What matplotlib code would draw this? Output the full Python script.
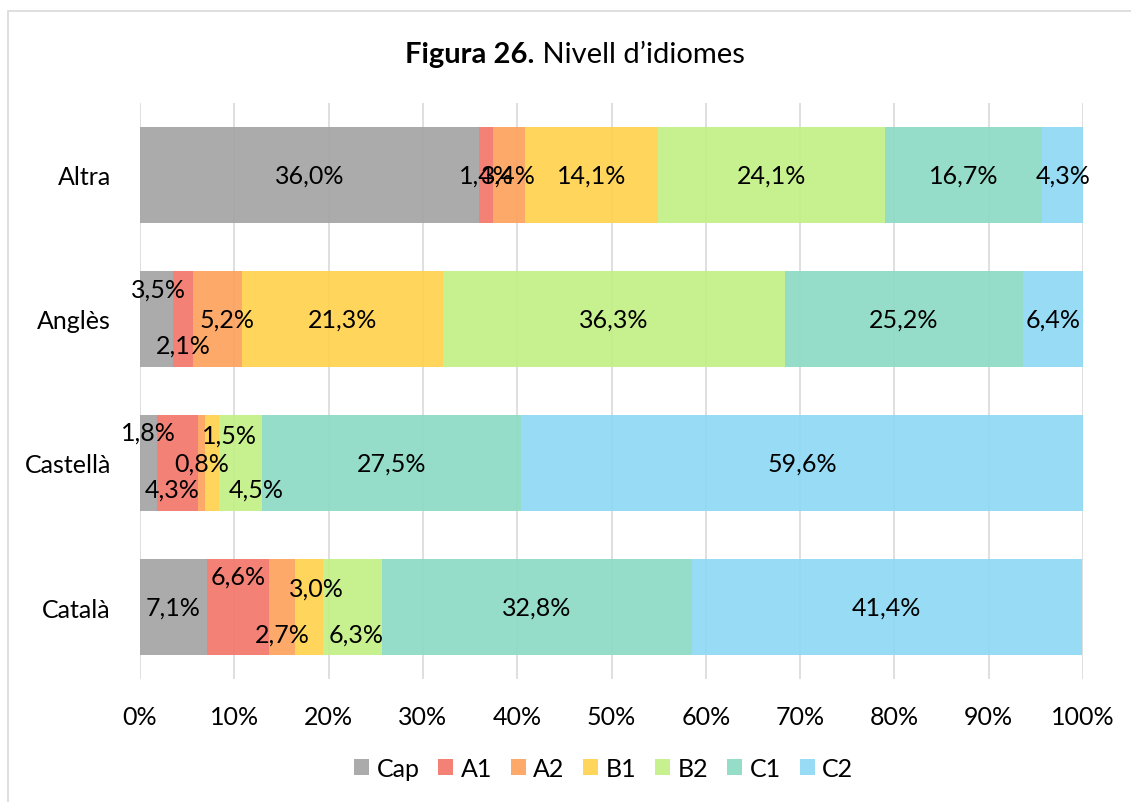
import numpy as np
import matplotlib
matplotlib.use('Agg')
import matplotlib.pyplot as plt
from matplotlib.patches import Rectangle

plt.rcParams['font.family'] = ['Lato', 'DejaVu Sans']

# Dades de la figura
idiomes = ['Català', 'Castellà', 'Anglès', 'Altra']
nivells = ['Cap', 'A1', 'A2', 'B1', 'B2', 'C1', 'C2']
cap = [7.1, 1.8, 3.5, 36.0]
a1 = [6.6, 4.3, 2.1, 1.4]
a2 = [2.7, 0.8, 5.2, 3.4]
b1 = [3.0, 1.5, 21.3, 14.1]
b2 = [6.3, 4.5, 36.3, 24.1]
c1 = [32.8, 27.5, 25.2, 16.7]
c2 = [41.4, 59.6, 6.4, 4.3]
series = [cap, a1, a2, b1, b2, c1, c2]

colors = ['#a5a5a5', '#f4786a', '#fca35f', '#ffd24f', '#c3ef86', '#8ddbc5', '#8fd9f4']

# desplaçament manual d'etiquetes (idioma, nivell) -> pixels
nudge = {
    (1, 0): (0, 31), (1, 1): (-5, -26), (1, 3): (17, 28), (1, 4): (16, -26),
    (2, 0): (2, 30), (2, 1): (0, -26), (2, 2): (10, 0),
    (0, 1): (0, 31), (0, 2): (0, -27), (0, 3): (8, 19), (0, 4): (3, -27),
}

fig = plt.figure(figsize=(11.31, 8.03), dpi=100)
ax = fig.add_axes([140 / 1131, 1 - 680 / 803, 943 / 1131, 576 / 803])

# marc del gràfic
fig.patches.append(Rectangle((8 / 1131, -0.1), 1.2, 1 - 12 / 803 + 0.1,
                             transform=fig.transFigure, fill=False,
                             edgecolor='#d9d9d9', linewidth=1.2))

y = np.arange(len(idiomes))
left = np.zeros(len(idiomes))
for s, (vals, name, col) in enumerate(zip(series, nivells, colors)):
    vals = np.array(vals)
    ax.barh(y, vals, left=left, height=0.667, color=col, alpha=0.93,
            label=name, zorder=2)
    for i, v in enumerate(vals):
        dx, dy = nudge.get((i, s), (0, 0))
        txt = f'{v:.1f}%'.replace('.', ',')
        ax.annotate(txt, (left[i] + v / 2, y[i]), xytext=(dx, dy),
                    textcoords='offset pixels', ha='center', va='center',
                    fontsize=18, color='black', zorder=4)
    left += vals

ax.set_xlim(0, 100)
ax.set_ylim(-0.5, 3.5)
ax.set_yticks(y)
ax.set_yticklabels(idiomes, fontsize=18)
ax.set_xticks(np.arange(0, 101, 10))
ax.set_xticklabels([f'{t}%' for t in range(0, 101, 10)], fontsize=18)
ax.tick_params(length=0)
ax.tick_params(axis='x', pad=19)
ax.tick_params(axis='y', pad=21)
ax.grid(axis='x', color='#d9d9d9', linewidth=1.2, zorder=0)
ax.set_axisbelow(True)
for sp in ax.spines.values():
    sp.set_visible(False)

ax.legend(loc='center', bbox_to_anchor=(0.5 - 8 / 943, -0.155), ncol=7,
          frameon=False, fontsize=18, handlelength=0.6, handleheight=0.6,
          handletextpad=0.3, columnspacing=0.75)

# títol en dues parts
t1 = fig.text(0.5, 1 - 55 / 803, 'Figura 26.', fontsize=21, fontweight='bold',
              ha='left', va='center')
t2 = fig.text(0.5, 1 - 55 / 803, ' Nivell d\u2019idiomes', fontsize=21,
              ha='left', va='center')
fig.canvas.draw()
r = fig.canvas.get_renderer()
w1 = t1.get_window_extent(r).width
w2 = t2.get_window_extent(r).width
x0 = 575 - (w1 + w2) / 2
t1.set_x(x0 / 1131)
t2.set_x((x0 + w1) / 1131)

fig.savefig('out.png', dpi=100)
